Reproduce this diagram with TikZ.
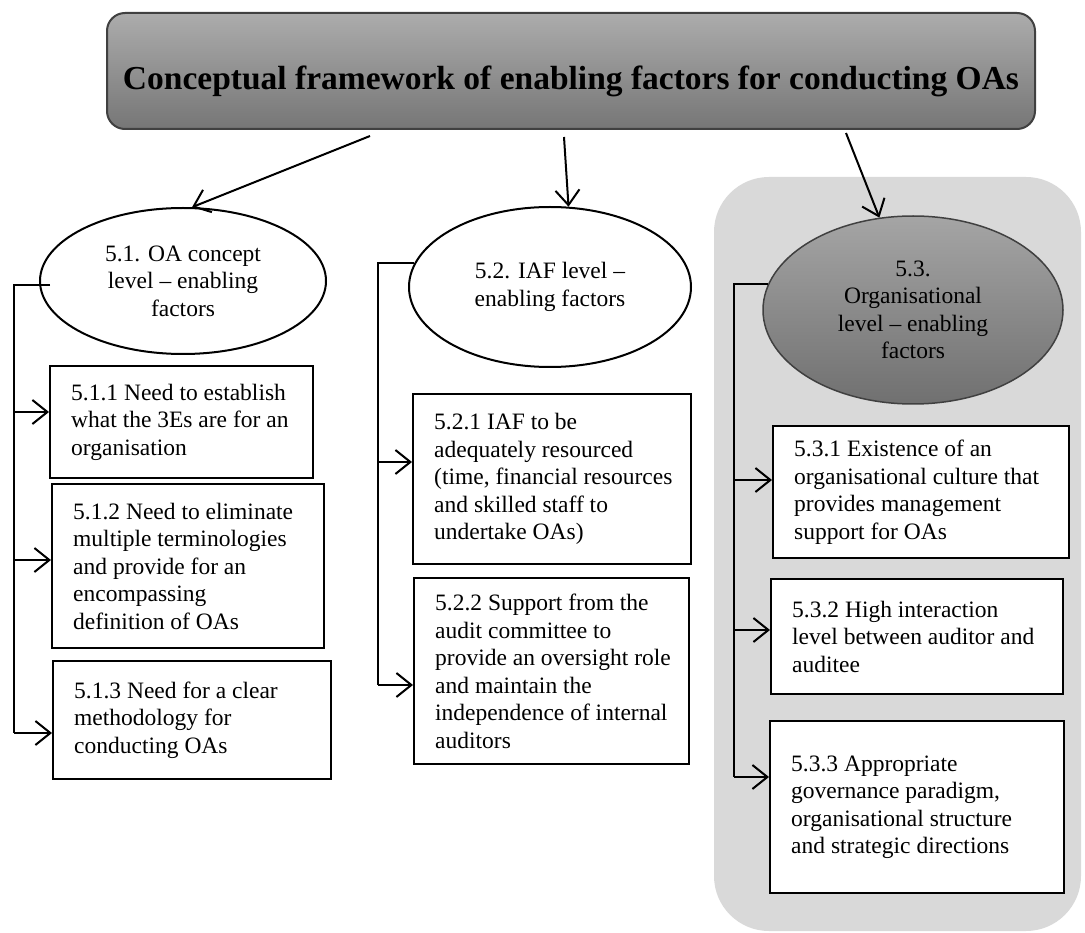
\documentclass[tikz,border=0pt]{standalone}
\usepackage{fontspec}
\setmainfont{Liberation Serif}
\usetikzlibrary{arrows.meta,shapes.geometric}
\definecolor{panelgray}{RGB}{217,217,217}
\definecolor{headtop}{RGB}{172,172,172}
\definecolor{headbot}{RGB}{118,118,118}
\definecolor{edgegray}{RGB}{64,64,64}
\definecolor{ovaltop}{RGB}{165,165,165}
\definecolor{ovalbot}{RGB}{112,112,112}

\begin{document}
\begin{tikzpicture}[x=1pt,y=-1pt,
  every node/.style={font=\fontsize{23.5}{27.5}\selectfont, inner sep=0pt},
  itembox/.style={draw=black, line width=2.4pt, fill=white, anchor=north west},
  itemtext/.style={anchor=west, align=left},
  level/.style={ellipse, draw=black, line width=2pt, fill=white, align=center},
  link/.style={line width=2pt, -{Straight Barb[length=15pt,width=24pt]}},
  rail/.style={line width=2pt},
]
\useasboundingbox (0,0) rectangle (1085,933);
\fill[white] (0,0) rectangle (1085,933);

% shaded panel behind the organisational column
\fill[panelgray, rounded corners=55pt] (714,177) rectangle (1081,931);

% heading
\node[draw=edgegray, line width=2pt, rounded corners=18pt,
      top color=headtop, bottom color=headbot,
      minimum width=928pt, minimum height=116pt] (head) at (571,71) {};
\node[font=\fontsize{33.5}{40}\selectfont\bfseries, anchor=base] (title) at (571,90)
  {Conceptual framework of enabling factors for conducting OAs};

% the three levels
\node[level, minimum width=286pt, minimum height=146pt] (e51) at (183,281)
  {5.1. OA concept\\level – enabling\\factors};
\node[level, minimum width=282pt, minimum height=160pt] (e52) at (550,287)
  {5.2. IAF level –\\enabling factors};
\node[level, draw=edgegray, line width=1.5pt, top color=ovaltop, bottom color=ovalbot,
      minimum width=300pt, minimum height=188pt] (e53) at (913,310)
  {5.3.\\Organisational\\level – enabling\\factors};

% heading to levels
\coordinate (h1) at (370,136);
\coordinate (h2) at (564,137);
\coordinate (h3) at (846,133);
\draw[link] (h1) -- (e51.83);
\draw[link] (h2) -- (e52.77);
\draw[link] (h3) -- (e53.110);

% factor boxes
\node[itembox, minimum width=263pt, minimum height=112pt] (b511) at (49,365) {};
\node[itembox, minimum width=272pt, minimum height=164pt] (b512) at (51,483) {};
\node[itembox, minimum width=278pt, minimum height=118pt] (b513) at (52,660) {};
\node[itembox, minimum width=278pt, minimum height=170pt] (b521) at (412,393) {};
\node[itembox, minimum width=275pt, minimum height=186pt] (b522) at (413,577) {};
\node[itembox, minimum width=296pt, minimum height=132pt] (b531) at (772,425) {};
\node[itembox, minimum width=292pt, minimum height=115pt] (b532) at (770,578) {};
\node[itembox, minimum width=294pt, minimum height=172pt] (b533) at (769,720) {};

\node[itemtext] (t511) at ([xshift=22pt]b511.west)
  {5.1.1 Need to establish\\what the 3Es are for an\\organisation};
\node[itemtext] (t512) at ([xshift=22pt]b512.west)
  {5.1.2 Need to eliminate\\multiple terminologies\\and provide for an\\encompassing\\definition of OAs};
\node[itemtext] (t513) at ([xshift=22pt]b513.west)
  {5.1.3 Need for a clear\\methodology for\\conducting OAs};
\node[itemtext] (t521) at ([xshift=22pt]b521.west)
  {5.2.1 IAF to be\\adequately resourced\\(time, financial resources\\and skilled staff to\\undertake OAs)};
\node[itemtext] (t522) at ([xshift=22pt]b522.west)
  {5.2.2 Support from the\\audit committee to\\provide an oversight role\\and maintain the\\independence of internal\\auditors};
\node[itemtext] (t531) at ([xshift=22pt]b531.west)
  {5.3.1 Existence of an\\organisational culture that\\provides management\\support for OAs};
\node[itemtext] (t532) at ([xshift=22pt]b532.west)
  {5.3.2 High interaction\\level between auditor and\\auditee};
\node[itemtext] (t533) at ([xshift=22pt]b533.west)
  {5.3.3 Appropriate\\governance paradigm,\\organisational structure\\and strategic directions};

% rails from each level down its column
\coordinate (r1) at (14,733);
\coordinate (r2) at (378,685);
\coordinate (r3) at (734,777);
\draw[rail] ([shift={(11pt,-4pt)}]e51.west) -| (r1);
\draw[rail] (e52.170) -| (r2);
\draw[rail] (e53.170) -| (r3);

% branches into the boxes
\coordinate (a511) at (14,412);
\coordinate (a512) at (14,560);
\coordinate (a513) at (14,733);
\coordinate (a521) at (378,462);
\coordinate (a522) at (378,685);
\coordinate (a531) at (734,480);
\coordinate (a532) at (734,630);
\coordinate (a533) at (734,777);
\draw[link] (a511) -- (a511 -| b511.west);
\draw[link] (a512) -- (a512 -| b512.west);
\draw[link] (a513) -- (a513 -| b513.west);
\draw[link] (a521) -- (a521 -| b521.west);
\draw[link] (a522) -- (a522 -| b522.west);
\draw[link] (a531) -- (a531 -| b531.west);
\draw[link] (a532) -- (a532 -| b532.west);
\draw[link] (a533) -- (a533 -| b533.west);
\end{tikzpicture}
\end{document}
